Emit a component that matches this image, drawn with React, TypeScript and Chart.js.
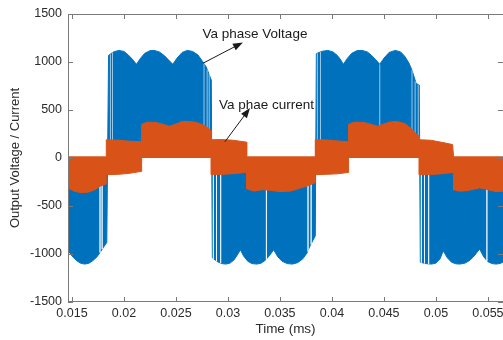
import React, { useEffect, useRef } from "react";
import { Chart, registerables } from "chart.js";

Chart.register(...registerables);

// ---- Data (time in the units shown on the axis) ----
const xTickValues = [0.015, 0.02, 0.025, 0.03, 0.035, 0.04, 0.045, 0.05, 0.055];
const xTickLabels = ["0.015", "0.02", "0.025", "0.03", "0.035", "0.04", "0.045", "0.05", "0.055"];
const yTickValues = [-1500, -1000, -500, 0, 500, 1000, 1500];
const yTickLabels = ["-1500", "-1000", "-500", "0", "500", "1000", "1500"];

// Envelope of the PWM phase voltage
const voltageTime = [
  0.0146, 0.015, 0.0154, 0.0158, 0.0162, 0.0166, 0.017, 0.0174, 0.0177, 0.018, 0.01835,
  0.01852, 0.019, 0.0195, 0.02, 0.0204, 0.0208, 0.0212, 0.0216, 0.022, 0.0225, 0.0229,
  0.0234, 0.0239, 0.0243, 0.0247, 0.0251, 0.0256, 0.0261, 0.0266, 0.0271, 0.0276, 0.0279,
  0.0281, 0.0284,
  0.0285, 0.029, 0.0294, 0.0298, 0.0302, 0.0306, 0.0309, 0.0312, 0.0315, 0.0319, 0.0323,
  0.0328, 0.0332, 0.0336, 0.034, 0.0344, 0.0348, 0.0352, 0.0357, 0.0362, 0.0367, 0.0372,
  0.0376, 0.0379, 0.0384,
  0.0385, 0.039, 0.0396, 0.0401, 0.0405, 0.0408, 0.0411, 0.0415, 0.0419, 0.0424, 0.0429,
  0.0434, 0.0438, 0.0442, 0.0446, 0.045, 0.0455, 0.0461, 0.0466, 0.047, 0.0474, 0.0477,
  0.0481, 0.0484,
  0.0485, 0.049, 0.0496, 0.05, 0.0504, 0.0507, 0.0511, 0.0515, 0.0519, 0.0523, 0.0528,
  0.0532, 0.0536, 0.0539, 0.0542, 0.0546, 0.055, 0.0554, 0.0558, 0.0562, 0.0566,
];
const voltageValue = [
  -960, -1020, -1065, -1095, -1105, -1098, -1070, -1030, -985, -935, -880,
  1069, 1105, 1121, 1110, 1075, 1030, 976, 1040, 1090, 1118, 1121,
  1105, 1065, 1020, 976, 1040, 1100, 1121, 1110, 1075, 1000, 950,
  897, 811,
  -1040, -1080, -1100, -1105, -1095, -1060, -1010, -957, -1020, -1075, -1100,
  -1105, -1095, -1065, -1015, -957, -1030, -1075, -1100, -1105, -1090, -1050,
  -990, -915, -811,
  1087, 1110, 1121, 1105, 1070, 1030, 976, 1040, 1090, 1118, 1121,
  1105, 1070, 1025, 976, 1040, 1100, 1121, 1105, 1060, 990, 914,
  776, 760,
  -1085, -1100, -1105, -1095, -1050, -967, -1040, -1085, -1102, -1105, -1095,
  -1070, -1030, -990, -949, -1030, -1080, -1100, -1105, -1098, -1075,
];

// Short switching gaps (light slivers) in the voltage: time and envelope height
const gapTime = [
  0.0177, 0.0179, 0.0187, 0.0189, 0.0277, 0.028, 0.0282, 0.0286, 0.0289, 0.0293, 0.0337,
  0.0377, 0.038, 0.0386, 0.0389, 0.0446, 0.0477, 0.048, 0.0483, 0.0486, 0.0489, 0.0493,
  0.0549,
];
const gapValue = [
  -985, -950, 1080, 1100, 990, 920, 880, -1050, -1075, -1095, -1060,
  -975, -900, 1090, 1105, 976, 914, 800, 765, -1090, -1098, -1103,
  -1075,
];

// Upper edge of the switching phase-current band
const currentUpperTime = [
  0.0146, 0.0183, 0.0183, 0.0195, 0.0205, 0.0217, 0.0217, 0.0222, 0.023, 0.0238, 0.0244,
  0.025, 0.0256, 0.0262, 0.027, 0.0278, 0.0284, 0.0284, 0.0295, 0.0305, 0.0318, 0.0318,
  0.0384, 0.0384, 0.0395, 0.0405, 0.0416, 0.0416, 0.0421, 0.043, 0.0438, 0.0444, 0.045,
  0.0456, 0.0462, 0.047, 0.0477, 0.0482, 0.0484, 0.0484, 0.0495, 0.0505, 0.0516, 0.0517,
  0.0566,
];
const currentUpperValue = [
  12, 12, 190, 185, 175, 170, 350, 372, 372, 350, 330,
  355, 378, 381, 370, 335, 285, 190, 192, 185, 165, 12,
  12, 190, 188, 178, 170, 350, 372, 372, 350, 330, 355,
  375, 380, 360, 300, 241, 230, 190, 185, 165, 140, 12,
  12,
];

// Lower edge of the switching phase-current band
const currentLowerTime = [
  0.0146, 0.0152, 0.0159, 0.0166, 0.0172, 0.0177, 0.0183, 0.0183, 0.0195, 0.0205, 0.0217,
  0.0217, 0.0284, 0.0284, 0.0295, 0.0305, 0.0318, 0.0318, 0.0325, 0.0333, 0.034, 0.035,
  0.036, 0.0369, 0.0378, 0.0384, 0.0384, 0.0395, 0.0405, 0.0416, 0.0416, 0.0484, 0.0484,
  0.0495, 0.0505, 0.0517, 0.0517, 0.0522, 0.053, 0.0542, 0.055, 0.0558, 0.0566,
];
const currentLowerValue = [
  -311, -345, -362, -355, -330, -294, -270, -173, -170, -160, -139,
  10, 10, -173, -170, -163, -150, -320, -345, -330, -335, -350,
  -345, -315, -285, -255, -173, -170, -165, -150, 10, 10, -173,
  -172, -165, -150, -330, -345, -340, -311, -330, -350, -345,
];

const BLUE = "#0072BD";
const ORANGE = "#D95319";
const AXIS_COLOR = "#7a7a7a";
const TEXT_COLOR = "#2b2b2b";
const FONT = '"Liberation Sans", Arial, Helvetica, sans-serif';

const toPoints = (ts: number[], vs: number[]) => ts.map((t, i) => ({ x: t, y: vs[i] }));
const toGapSegments = (ts: number[], vs: number[]) => {
  const out: any[] = [];
  ts.forEach((t, i) => {
    out.push({ x: t, y: 0 }, { x: t, y: vs[i] }, { x: t, y: null });
  });
  return out;
};

function arrow(ctx: CanvasRenderingContext2D, x1: number, y1: number, x2: number, y2: number) {
  const ang = Math.atan2(y2 - y1, x2 - x1);
  const len = 10;
  const hw = 3.6;
  ctx.beginPath();
  ctx.moveTo(x1, y1);
  ctx.lineTo(x2 - Math.cos(ang) * len * 0.8, y2 - Math.sin(ang) * len * 0.8);
  ctx.stroke();
  ctx.beginPath();
  ctx.moveTo(x2, y2);
  ctx.lineTo(
    x2 - Math.cos(ang) * len + Math.cos(ang + Math.PI / 2) * hw,
    y2 - Math.sin(ang) * len + Math.sin(ang + Math.PI / 2) * hw
  );
  ctx.lineTo(
    x2 - Math.cos(ang) * len - Math.cos(ang + Math.PI / 2) * hw,
    y2 - Math.sin(ang) * len - Math.sin(ang + Math.PI / 2) * hw
  );
  ctx.closePath();
  ctx.fill();
}

const decorPlugin = {
  id: "decor",
  afterDatasetsDraw(chart: any) {
    const { ctx, chartArea: a, scales } = chart;
    const xs = scales.x;
    const ys = scales.y;
    const TICK = 5;
    ctx.save();
    ctx.strokeStyle = AXIS_COLOR;
    ctx.lineWidth = 1;
    ctx.beginPath();
    ctx.moveTo(a.left + 0.5, a.top);
    ctx.lineTo(a.left + 0.5, a.bottom);
    ctx.moveTo(a.left, a.bottom - 0.5);
    ctx.lineTo(a.right, a.bottom - 0.5);
    ctx.moveTo(a.left, a.top + 0.5);
    ctx.lineTo(a.right, a.top + 0.5);
    for (const v of xTickValues) {
      const px = Math.round(xs.getPixelForValue(v)) + 0.5;
      ctx.moveTo(px, a.bottom);
      ctx.lineTo(px, a.bottom - TICK);
      ctx.moveTo(px, a.top);
      ctx.lineTo(px, a.top + TICK);
    }
    for (const v of yTickValues) {
      const py = Math.round(ys.getPixelForValue(v)) + 0.5;
      ctx.moveTo(a.left, py);
      ctx.lineTo(a.left + TICK, py);
      ctx.moveTo(a.right, py);
      ctx.lineTo(a.right - TICK, py);
    }
    ctx.stroke();

    ctx.fillStyle = "#1a1a1a";
    ctx.strokeStyle = "#1a1a1a";
    ctx.font = `13.5px ${FONT}`;
    ctx.textAlign = "center";
    ctx.textBaseline = "middle";
    const P = (t: number, v: number) => [xs.getPixelForValue(t), ys.getPixelForValue(v)];
    const [vx, vy] = P(0.0326, 1287);
    ctx.fillText("Va phase Voltage", vx, vy);
    const [a1x, a1y] = P(0.0276, 987);
    const [a2x, a2y] = P(0.03144, 1204);
    arrow(ctx, a1x, a1y, a2x, a2y);
    const [cx, cy] = P(0.0337, 552);
    ctx.fillText("Va phae current", cx, cy);
    const [b1x, b1y] = P(0.02971, 169);
    const [b2x, b2y] = P(0.03212, 521);
    arrow(ctx, b1x, b1y, b2x, b2y);
    ctx.restore();
  },
};

export default function App() {
  const ref = useRef<HTMLCanvasElement | null>(null);
  useEffect(() => {
    if (!ref.current) return;
    Chart.defaults.font.family = FONT;
    const chart = new Chart(ref.current, {
      type: "line",
      data: {
        datasets: [
          {
            label: "Va phase current (upper)",
            data: toPoints(currentUpperTime, currentUpperValue),
            borderColor: ORANGE,
            backgroundColor: ORANGE,
            borderWidth: 1,
            pointRadius: 0,
            fill: "origin",
            tension: 0,
          },
          {
            label: "Va phase current (lower)",
            data: toPoints(currentLowerTime, currentLowerValue),
            borderColor: ORANGE,
            backgroundColor: ORANGE,
            borderWidth: 1,
            pointRadius: 0,
            fill: "origin",
            tension: 0,
          },
          {
            label: "switching gaps",
            data: toGapSegments(gapTime, gapValue),
            borderColor: "rgba(255,255,255,0.6)",
            borderWidth: 1,
            pointRadius: 0,
            fill: false,
            spanGaps: false,
            tension: 0,
          },
          {
            label: "Va phase Voltage",
            data: toPoints(voltageTime, voltageValue),
            borderColor: BLUE,
            backgroundColor: BLUE,
            borderWidth: 1,
            pointRadius: 0,
            fill: "origin",
            tension: 0,
          },
        ],
      },
      options: {
        responsive: false,
        devicePixelRatio: 1,
        animation: false,
        layout: { padding: { top: 14, right: 0, left: 0, bottom: 0 } },
        plugins: { legend: { display: false }, tooltip: { enabled: false } },
        scales: {
          x: {
            type: "linear",
            position: "bottom",
            min: 0.01462,
            max: 0.05645,
            grid: { display: false, drawTicks: false },
            border: { display: false },
            afterBuildTicks: (s: any) => {
              s.ticks = xTickValues.map((value) => ({ value }));
            },
            afterFit: (s: any) => {
              s.height = 38;
              s.paddingLeft = 0;
              s.paddingRight = 0;
            },
            ticks: {
              autoSkip: false,
              maxRotation: 0,
              padding: 4,
              color: TEXT_COLOR,
              font: { size: 12.5 },
              callback: (_v: any, i: number) => xTickLabels[i],
            },
            title: {
              display: true,
              text: "Time (ms)",
              color: TEXT_COLOR,
              font: { size: 13.5 },
              padding: { top: 0, bottom: 3 },
            },
          },
          y: {
            type: "linear",
            min: -1500,
            max: 1500,
            grid: { display: false, drawTicks: false },
            border: { display: false },
            afterBuildTicks: (s: any) => {
              s.ticks = yTickValues.map((value) => ({ value }));
            },
            afterFit: (s: any) => {
              s.width = 68;
            },
            ticks: {
              padding: 6,
              color: TEXT_COLOR,
              font: { size: 12.5 },
              callback: (_v: any, i: number) => yTickLabels[i],
            },
            title: {
              display: true,
              text: "Output Voltage / Current",
              color: TEXT_COLOR,
              font: { size: 13 },
              padding: { top: 8, bottom: 0 },
            },
          },
        },
      },
      plugins: [decorPlugin],
    } as any);
    return () => chart.destroy();
  }, []);
  return (
    <div style={{ position: "absolute", left: 0, top: 0, width: 503, height: 340, background: "#fff" }}>
      <canvas ref={ref} width={503} height={340} style={{ display: "block", width: 503, height: 340 }} />
    </div>
  );
}
